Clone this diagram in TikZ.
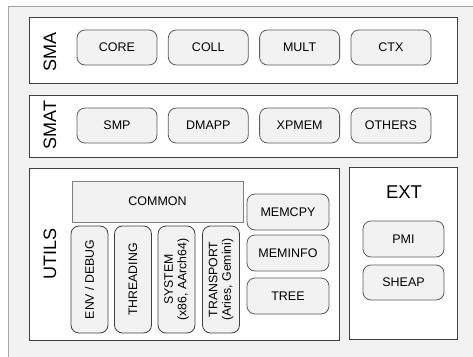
\documentclass[tikz,border=0pt]{standalone}
\usepackage{fontspec}
\setmainfont{Liberation Sans}
\usepackage{tikz}
\usetikzlibrary{
	positioning
}

\definecolor{bggray}{HTML}{F2F2F2}
\definecolor{framegray}{HTML}{A6A6A6}
\definecolor{linegray}{HTML}{404040}
\definecolor{pillgray}{HTML}{F2F2F2}

\tikzset{
	layer/.style={draw=linegray, fill=white, line width=0.9pt, inner sep=0pt},
	layername/.style={font=\fontsize{18}{20}\selectfont, rotate=90},
	module/.style={draw=linegray!85, fill=pillgray, rounded corners=8pt, line width=0.8pt,
		minimum width=80pt, minimum height=35pt, inner sep=1pt,
		font=\fontsize{12.5}{14}\selectfont},
	vmodule/.style={module, rotate=90, align=center, minimum width=107pt, minimum height=37pt,
		draw=linegray, font=\fontsize{12.3}{13.5}\selectfont}
}

\begin{document}
\begin{tikzpicture}[x=1pt, y=-1pt, node distance=10.5pt]
	\useasboundingbox (0,0) rectangle (473,356);
	\fill[bggray, draw=framegray, line width=1pt] (8,6) rectangle (490,370);

	% layers
	\node[layer, minimum width=428pt, minimum height=66pt] (sma) at (243,50) {};
	\node[layer, minimum width=428pt, minimum height=62pt] (smat) at (243,126) {};
	\node[layer, minimum width=310pt, minimum height=172pt] (utils) at (184,254) {};
	\node[layer, minimum width=108pt, minimum height=172pt] (ext) at (403,253) {};

	\node[layername] (smalabel) at (50,52) {SMA};
	\node[layername] (smatlabel) at (50,125) {SMAT};
	\node[layername] (utilslabel) at (50,254) {UTILS};
	\node[font=\fontsize{18.5}{20}\selectfont] (extlabel) at (404,192) {EXT};

	% SMA
	\node[module] (core) at (117,47.5) {CORE};
	\node[module, right=of core] (coll) {COLL};
	\node[module, right=of coll] (mult) {MULT};
	\node[module, right=of mult] (ctx) {CTX};

	% SMAT
	\node[module] (smp) at (117,125.5) {SMP};
	\node[module, right=of smp] (dmapp) {DMAPP};
	\node[module, right=of dmapp] (xpmem) {XPMEM};
	\node[module, right=of xpmem] (others) {OTHERS};

	% UTILS
	\node[draw=gray, fill=pillgray, line width=0.6pt, minimum width=171pt, minimum height=41pt,
		font=\fontsize{12.5}{14}\selectfont] (common) at (157.5,201.5) {COMMON};
	\node[vmodule] (envdebug) at (89.5,279.5) {ENV / DEBUG};
	\node[vmodule] (threading) at (133,279.5) {THREADING};
	\node[vmodule] (system) at (176.5,279.5) {SYSTEM\\(x86, AArch64)};
	\node[vmodule] (transport) at (221,279.5) {TRANSPORT\\(Aries, Gemini)};

	\node[module, minimum width=82pt, minimum height=36pt] (memcpy) at (288,212) {MEMCPY};
	\node[module, minimum width=82pt, minimum height=36pt] (meminfo) at (288,253) {MEMINFO};
	\node[module, minimum width=82pt, minimum height=36pt] (tree) at (288,296) {TREE};

	% EXT
	\node[module, minimum width=81pt, minimum height=36pt] (pmi) at (403.5,239) {PMI};
	\node[module, minimum width=81pt, minimum height=35pt] (sheap) at (403.5,282.5) {SHEAP};
\end{tikzpicture}
\end{document}
